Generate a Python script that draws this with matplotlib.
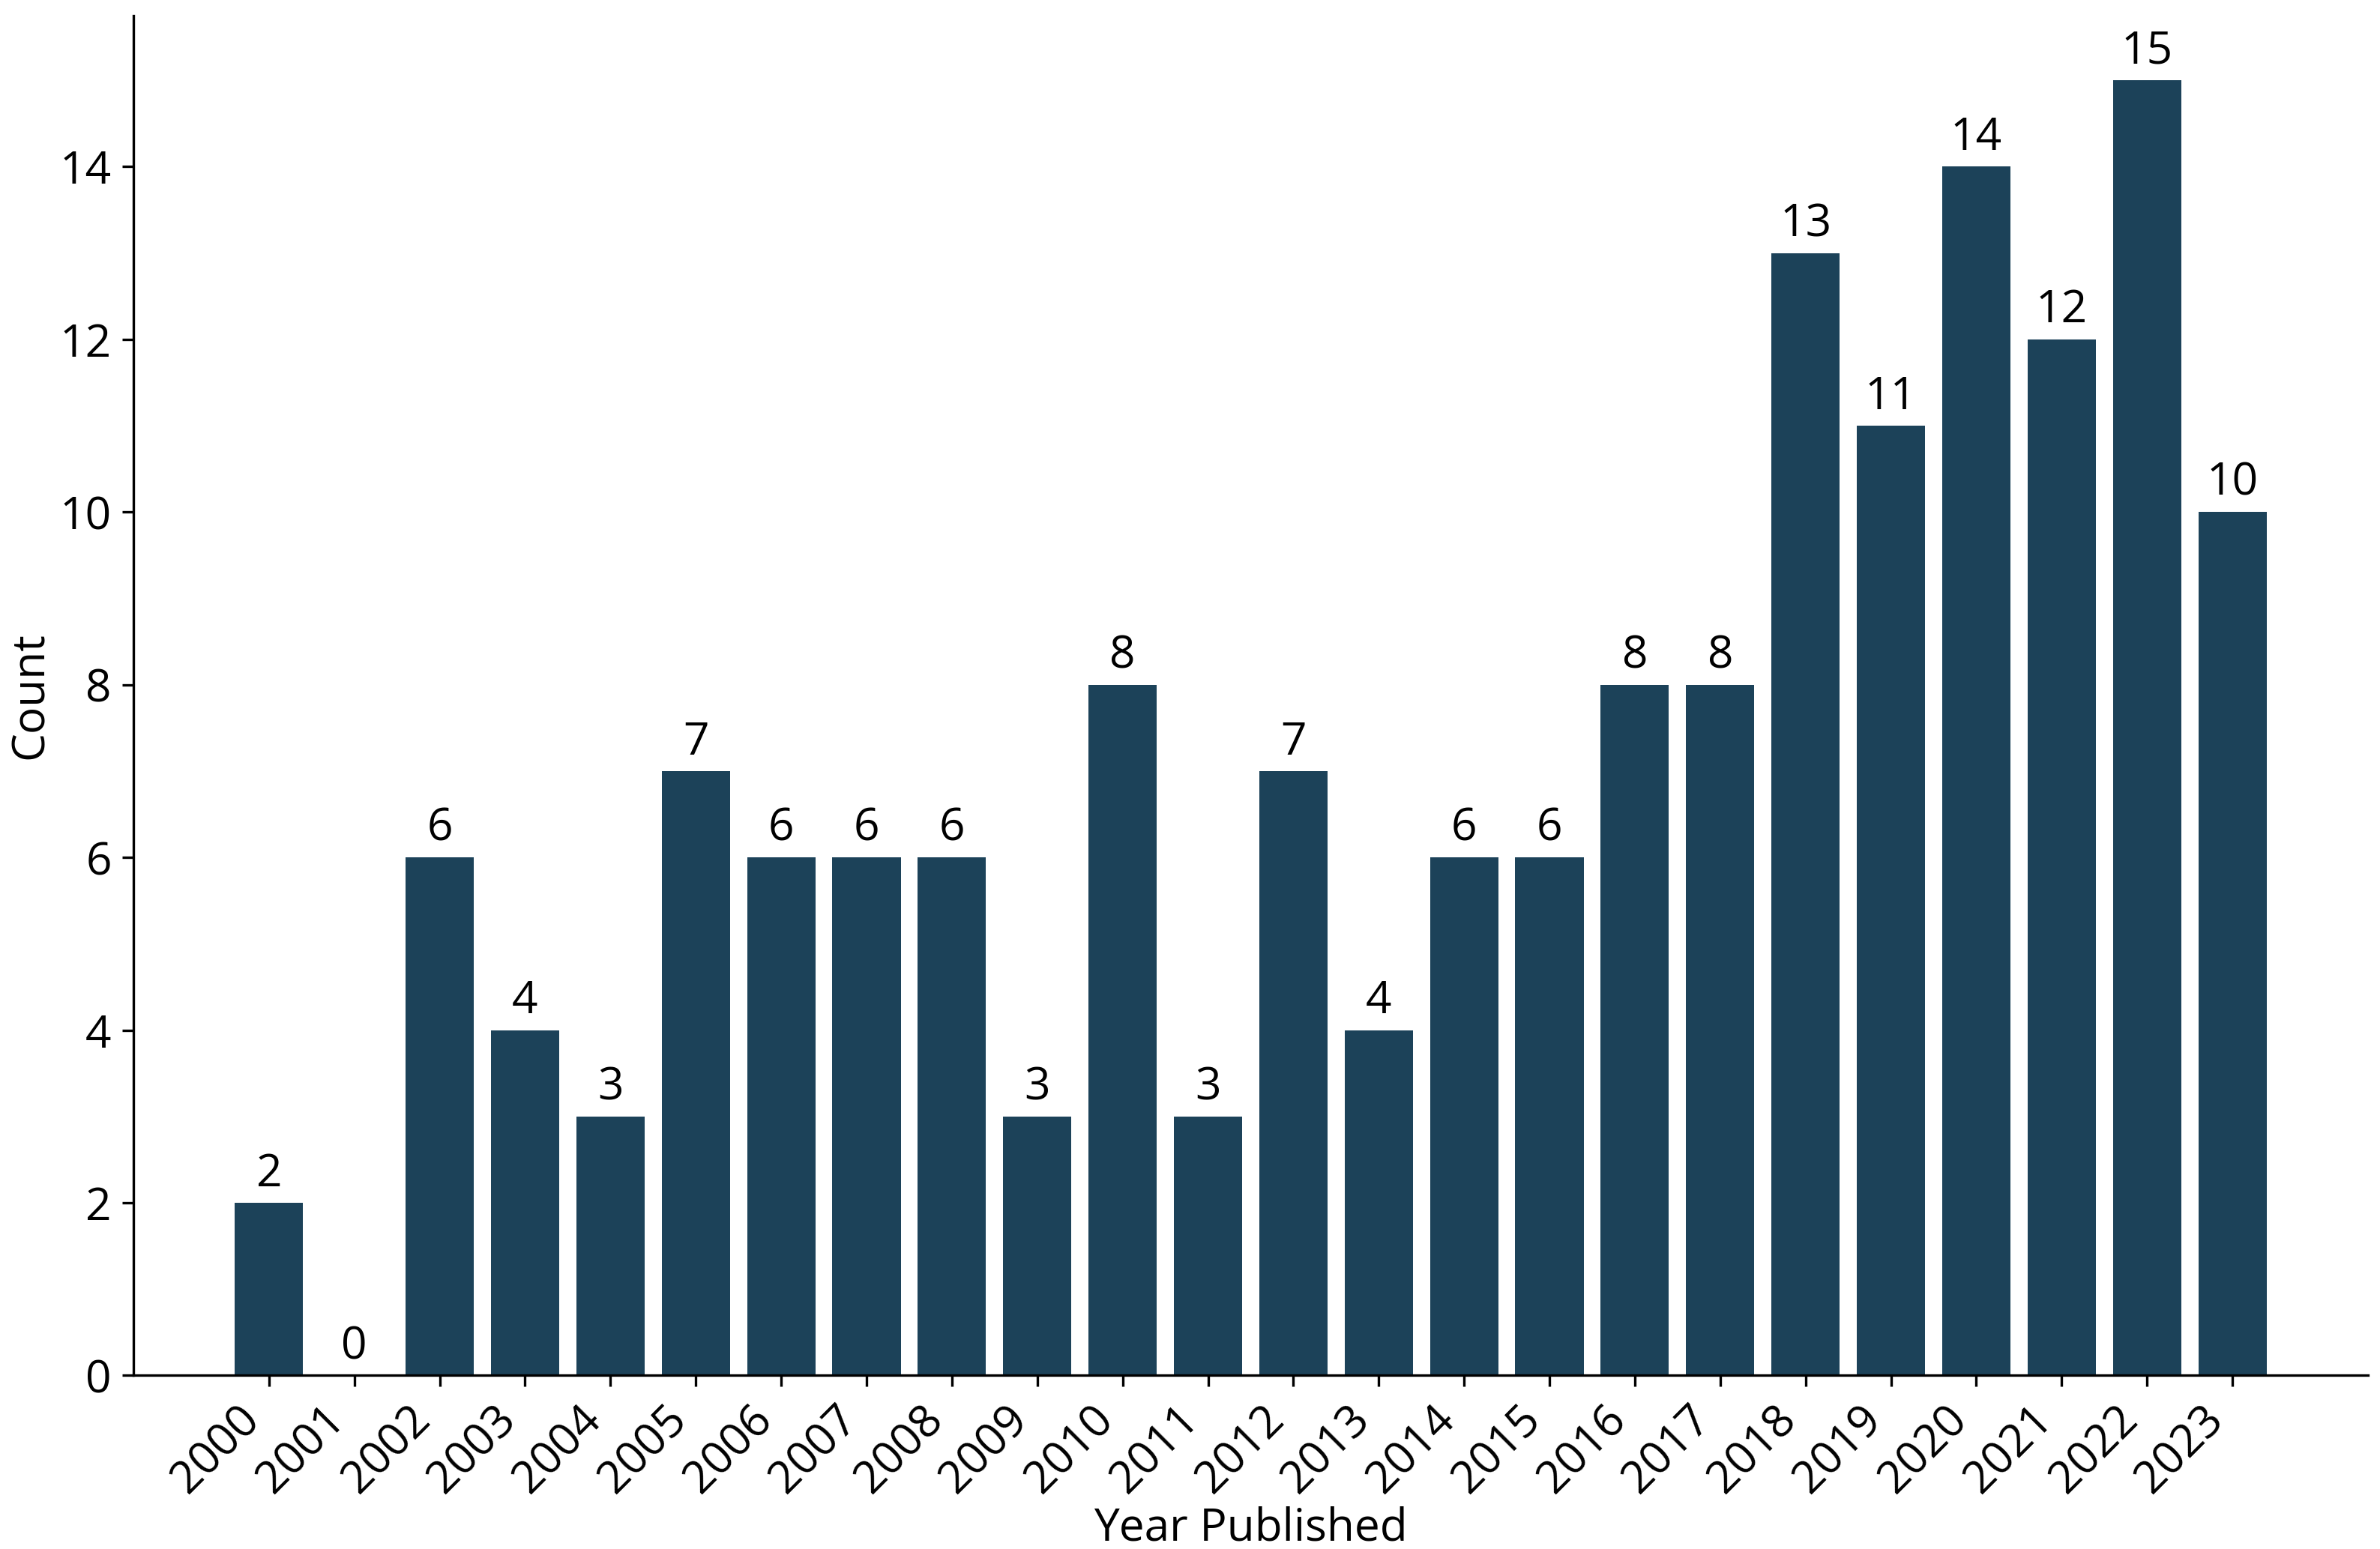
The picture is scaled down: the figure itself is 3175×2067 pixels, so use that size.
import numpy as np
import matplotlib
matplotlib.use("Agg")
import matplotlib.pyplot as plt

# datos
years = [str(y) for y in range(2000, 2024)]
counts = [2, 0, 6, 4, 3, 7, 6, 6, 6, 3, 8, 3, 7, 4, 6, 6, 8, 8, 13, 11, 14, 12, 15, 10]

plt.rcParams['font.family'] = ['Open Sans', 'DejaVu Sans']

fig = plt.figure(figsize=(3175 / 300, 2067 / 300), dpi=300)
ax = fig.add_axes([0.056, 0.112, 0.939, 0.878])

x = np.arange(len(years))
bars = ax.bar(x, counts, width=0.8, color='#1c4259')
ax.bar_label(bars, labels=[str(c) for c in counts], padding=2, fontsize=14.5)

ax.set_xticks(x)
ax.set_xticklabels(years, rotation=45, ha='right', fontsize=14.5)
ax.tick_params(axis='y', labelsize=14.5)
ax.set_xlabel("Year Published", fontsize=14.5, labelpad=1)
ax.set_ylabel("Count", fontsize=14.5, labelpad=2)

ax.spines['top'].set_visible(False)
ax.spines['right'].set_visible(False)

fig.savefig("out.png", dpi=300)
